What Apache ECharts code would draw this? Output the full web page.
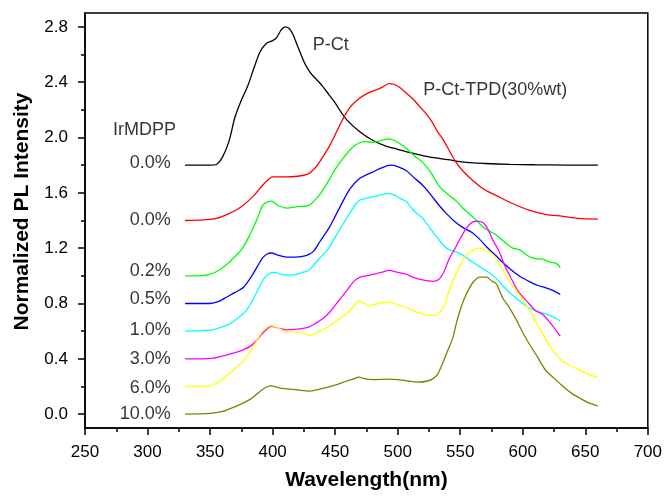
<!DOCTYPE html>
<html>
<head>
<meta charset="utf-8">
<script src="https://cdn.jsdelivr.net/npm/echarts@6/dist/echarts.min.js"></script>
<style>html,body{margin:0;padding:0;background:#fff}#c{width:665px;height:496px}</style>
</head>
<body>
<div id="c"></div>
<script>
// ---- data (wavelength nm, normalized PL intensity incl. vertical offset) ----
var pCt = [[330,1.80],[340,1.80],[350,1.80],[355,1.805],[360,1.86],[365,1.97],[370,2.15],[375,2.27],[380,2.37],[385,2.50],[390,2.62],[395,2.68],[400,2.70],[403,2.72],[407,2.78],[410,2.80],[413,2.79],[416,2.75],[420,2.66],[425,2.55],[430,2.47],[435,2.42],[440,2.37],[445,2.31],[450,2.25],[455,2.18],[460,2.12],[470,2.04],[480,1.98],[490,1.94],[500,1.915],[510,1.89],[525,1.86],[540,1.84],[555,1.82],[570,1.812],[590,1.806],[610,1.803],[635,1.801],[660,1.80]];
var pCtTpd = [[330,1.40],[345,1.405],[355,1.415],[365,1.45],[375,1.50],[385,1.58],[392,1.655],[397,1.70],[400,1.715],[410,1.715],[420,1.72],[428,1.735],[433,1.77],[438,1.83],[445,1.93],[450,2.02],[456,2.13],[462,2.22],[469,2.28],[475,2.315],[480,2.335],[487,2.36],[493,2.39],[497,2.385],[502,2.36],[507,2.32],[512,2.28],[517,2.23],[522,2.18],[527,2.12],[532,2.04],[536,1.99],[541,1.91],[546,1.83],[552,1.76],[560,1.69],[570,1.62],[579,1.58],[590,1.53],[605,1.475],[618,1.445],[632,1.43],[645,1.415],[660,1.41]];
var ir02 = [[330,1.0],[340,1.0],[350,1.01],[357,1.04],[363,1.08],[370,1.14],[376,1.20],[382,1.30],[388,1.42],[392,1.51],[396,1.535],[399,1.54],[404,1.51],[411,1.49],[420,1.50],[429,1.51],[433,1.54],[438,1.59],[445,1.69],[450,1.77],[456,1.845],[463,1.92],[469,1.96],[475,1.97],[480,1.965],[487,1.98],[493,1.99],[497,1.98],[502,1.955],[507,1.92],[513,1.87],[520,1.82],[527,1.74],[533,1.65],[540,1.59],[547,1.54],[552,1.49],[557,1.45],[562,1.41],[570,1.34],[578,1.30],[586,1.24],[592,1.20],[597,1.19],[605,1.14],[610,1.125],[616,1.12],[620,1.105],[624,1.095],[627,1.09],[630,1.06]];
var ir05 = [[330,0.80],[350,0.80],[357,0.815],[363,0.845],[370,0.88],[377,0.92],[382,0.98],[388,1.07],[392,1.13],[396,1.16],[399,1.165],[404,1.15],[411,1.135],[418,1.135],[424,1.14],[429,1.155],[433,1.18],[438,1.25],[445,1.345],[450,1.43],[456,1.535],[462,1.63],[469,1.70],[475,1.73],[480,1.75],[487,1.78],[494,1.80],[500,1.79],[507,1.76],[513,1.71],[520,1.655],[527,1.58],[533,1.51],[539,1.45],[546,1.39],[552,1.35],[560,1.31],[566,1.26],[571,1.21],[578,1.15],[586,1.08],[597,1.0],[605,0.96],[612,0.93],[618,0.915],[624,0.895],[630,0.865]];
var ir10 = [[330,0.60],[350,0.607],[358,0.625],[366,0.655],[373,0.70],[379,0.75],[385,0.84],[390,0.93],[394,0.99],[398,1.02],[402,1.025],[407,1.01],[413,1.005],[419,1.01],[424,1.025],[429,1.04],[433,1.08],[438,1.13],[445,1.20],[450,1.28],[456,1.37],[463,1.47],[469,1.545],[475,1.56],[480,1.57],[486,1.585],[492,1.595],[497,1.585],[502,1.56],[507,1.535],[513,1.47],[520,1.415],[527,1.33],[533,1.26],[539,1.20],[546,1.175],[552,1.15],[558,1.11],[565,1.07],[572,1.03],[579,0.98],[587,0.90],[594,0.845],[600,0.80],[607,0.76],[613,0.74],[618,0.725],[625,0.70],[630,0.674]];
var ir30 = [[330,0.40],[352,0.404],[360,0.42],[368,0.44],[375,0.46],[382,0.49],[388,0.54],[392,0.585],[396,0.62],[399,0.635],[405,0.62],[411,0.61],[420,0.615],[429,0.63],[435,0.66],[440,0.69],[446,0.74],[452,0.81],[459,0.89],[465,0.96],[470,0.99],[475,1.0],[480,1.01],[487,1.025],[493,1.04],[500,1.025],[507,1.01],[512,0.99],[517,0.976],[523,0.965],[528,0.96],[533,0.976],[537,1.03],[541,1.12],[546,1.20],[550,1.27],[555,1.345],[560,1.39],[564,1.395],[568,1.385],[572,1.34],[576,1.26],[581,1.18],[586,1.065],[592,0.96],[597,0.88],[605,0.80],[610,0.75],[616,0.72],[622,0.66],[630,0.564]];
var ir60 = [[330,0.20],[350,0.207],[357,0.235],[363,0.274],[370,0.33],[376,0.38],[382,0.45],[388,0.54],[392,0.60],[396,0.63],[399,0.64],[405,0.62],[411,0.595],[421,0.595],[426,0.58],[430,0.57],[435,0.585],[440,0.61],[446,0.64],[452,0.68],[459,0.726],[465,0.78],[469,0.82],[473,0.80],[477,0.786],[485,0.80],[493,0.81],[500,0.79],[507,0.77],[512,0.75],[518,0.73],[525,0.714],[530,0.714],[534,0.74],[538,0.80],[541,0.89],[545,0.98],[549,1.06],[553,1.13],[557,1.165],[561,1.19],[565,1.20],[570,1.19],[576,1.155],[581,1.09],[586,1.01],[590,0.95],[595,0.89],[600,0.83],[606,0.74],[613,0.63],[619,0.53],[626,0.44],[631,0.39],[637,0.357],[645,0.32],[652,0.29],[660,0.266]];
var ir100 = [[330,0.0],[350,0.005],[360,0.02],[368,0.047],[375,0.075],[382,0.107],[388,0.15],[392,0.178],[396,0.2],[399,0.205],[405,0.19],[411,0.183],[420,0.175],[429,0.166],[437,0.18],[445,0.197],[452,0.215],[459,0.238],[465,0.255],[469,0.268],[474,0.255],[480,0.25],[493,0.254],[500,0.25],[509,0.238],[516,0.232],[523,0.238],[528,0.255],[532,0.29],[536,0.37],[540,0.46],[544,0.55],[547,0.66],[551,0.78],[555,0.87],[560,0.95],[566,0.99],[571,0.99],[575,0.965],[579,0.94],[584,0.84],[589,0.774],[595,0.68],[600,0.59],[605,0.511],[612,0.41],[618,0.321],[625,0.26],[632,0.202],[640,0.145],[645,0.119],[652,0.085],[660,0.059]];

var seriesNames = ['P-Ct','P-Ct-TPD','0.2%','0.5%','1.0%','3.0%','6.0%','10.0%'];
var seriesData = [pCt, pCtTpd, ir02, ir05, ir10, ir30, ir60, ir100];
var seriesColors = ['#000000','#ff0000','#00ff00','#0000ff','#00ffff','#ff00ff','#ffff00','#808000'];

var yTickLabels = [0.0,0.4,0.8,1.2,1.6,2.0,2.4,2.8];
var yMinorTicks = [0.2,0.6,1.0,1.4,1.8,2.2,2.6];

// annotations: [x(nm), y(value), text]
var notesLeft = [[432,2.667,'P-Ct'],[520.5,2.345,'P-Ct-TPD(30%wt)'],[272.3,2.052,'IrMDPP']];
var notesRight = [[318.6,1.816,'0.0%'],[318.6,1.402,'0.0%'],[318.6,1.038,'0.2%'],[318.6,0.831,'0.5%'],[318.6,0.609,'1.0%'],[318.6,0.402,'3.0%'],[318.6,0.188,'6.0%'],[318.6,0.002,'10.0%']];

var FONT = 'Liberation Sans, Arial, sans-serif';
var chart = echarts.init(document.getElementById('c'), null, {renderer:'canvas'});

var series = seriesData.map(function(d,i){
  return {type:'line', name:seriesNames[i], data:d, showSymbol:false, smooth:0.3,
    lineStyle:{color:seriesColors[i], width:1.3}, itemStyle:{color:seriesColors[i]}, z:2, silent:true, animation:false};
});
function noteSeries(arr, align){
  return {type:'scatter', data:arr.map(function(a){return {value:[a[0],a[1]], name:a[2]};}),
    symbolSize:0, silent:true, animation:false, z:5,
    label:{show:true, position:[0,0], align:align, verticalAlign:'middle',
      formatter:function(p){return p.name;}, color:'#000', fontSize:18, fontFamily:FONT}};
}
series.push(noteSeries(notesLeft,'left'));
series.push(noteSeries(notesRight,'right'));

chart.setOption({
  animation:false,
  backgroundColor:'#fff',
  grid:{left:85, right:16, top:13, bottom:64, show:true, borderColor:'#000', borderWidth:1.5, containLabel:false},
  xAxis:{type:'value', min:250, max:700, interval:50,
    name:'Wavelength(nm)', nameLocation:'middle', nameGap:42,
    nameTextStyle:{fontSize:21, fontWeight:'bold', fontFamily:FONT, color:'#000'},
    axisLine:{show:true, onZero:false, lineStyle:{color:'#000', width:1.5}},
    axisTick:{show:true, inside:false, length:7, lineStyle:{color:'#000', width:1.5}},
    minorTick:{show:true, splitNumber:2, length:4, lineStyle:{color:'#000', width:1.5}},
    axisLabel:{fontSize:17, fontFamily:FONT, color:'#000', margin:16},
    splitLine:{show:false}, minorSplitLine:{show:false}},
  yAxis:[{type:'value', min:-0.1, max:2.9,
    name:'Normalized PL Intensity', nameLocation:'middle', nameGap:52, nameRotate:90,
    nameTextStyle:{fontSize:21, fontWeight:'bold', fontFamily:FONT, color:'#000', padding:[0,0,0,18]},
    axisLine:{show:true, onZero:false, lineStyle:{color:'#000', width:1.5}},
    axisTick:{show:true, inside:false, length:7, customValues:yTickLabels, lineStyle:{color:'#000', width:1.5}},
    axisLabel:{fontSize:17, fontFamily:FONT, color:'#000', margin:17, customValues:yTickLabels,
      formatter:function(v){return v.toFixed(1);}},
    splitLine:{show:false}},
   {type:'value', min:-0.1, max:2.9, position:'left', offset:0,
    axisLine:{show:false, onZero:false},
    axisTick:{show:true, inside:false, length:4, customValues:yMinorTicks, lineStyle:{color:'#000', width:1.5}},
    axisLabel:{show:false}, splitLine:{show:false}}],
  series:series
});
</script>
</body>
</html>
